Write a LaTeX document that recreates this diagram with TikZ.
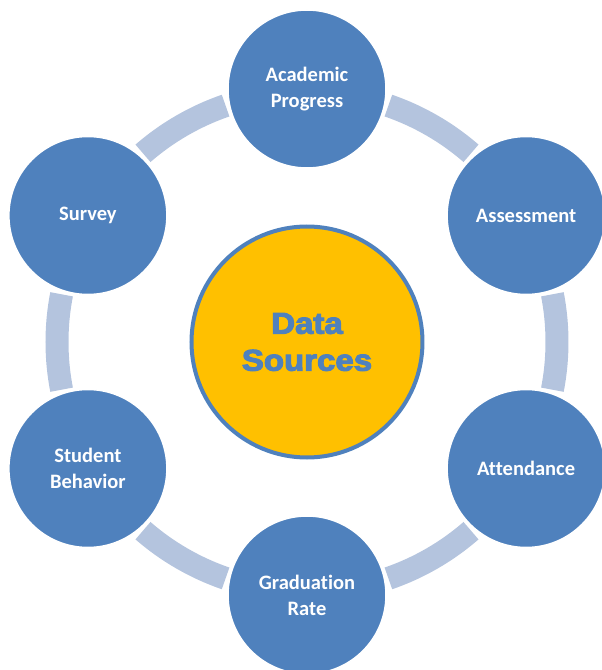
\documentclass[tikz,border=0pt]{standalone}
\usepackage{fontspec}
\setmainfont{Carlito}[Ligatures=NoCommon]
\newfontfamily\heavyfont[BoldFeatures={FakeBold=3.5}]{Liberation Sans}
\definecolor{nodeblue}{RGB}{79,129,189}
\definecolor{ringblue}{RGB}{180,196,222}
\definecolor{hubgold}{RGB}{255,192,0}
\begin{document}
\begin{tikzpicture}[x=1pt,y=1pt,
  source/.style={circle, fill=nodeblue, draw=white, line width=1.5pt,
    minimum size=158pt, inner sep=0pt, text=white, align=center,
    font=\fontsize{20.5}{26}\selectfont\bfseries},
  hub/.style={circle, fill=hubgold, draw=nodeblue, line width=4pt,
    minimum size=231pt, inner sep=0pt, text=nodeblue, align=center,
    font=\heavyfont\fontsize{30}{37}\selectfont\bfseries},
  band/.style={draw=ringblue, line width=23pt, line cap=butt}]
\useasboundingbox (-307,-328) rectangle (295,342);

% ring segments between neighbouring sources
\foreach \s in {30,-30,-90,-150,150,90}
  \draw[band] (\s+19:250) arc[start angle=\s+19, end angle=\s+41, radius=250];

% central hub
\node[hub] (hub) at (0,0) {\scalebox{1.1}[1]{Data}\\\scalebox{1.1}[1]{Sources}};

% surrounding data sources
\node[source] (acad)   at (90:253)  {Academic\\Progress};
\node[source] (assess) at (30:253)  {Assessment};
\node[source] (attend) at (-30:253) {Attendance};
\node[source] (grad)   at (-90:253) {Graduation\\Rate};
\node[source] (behav)  at (-150:253) {Student\\Behavior};
\node[source] (survey) at (150:253) {Survey};
\end{tikzpicture}
\end{document}
